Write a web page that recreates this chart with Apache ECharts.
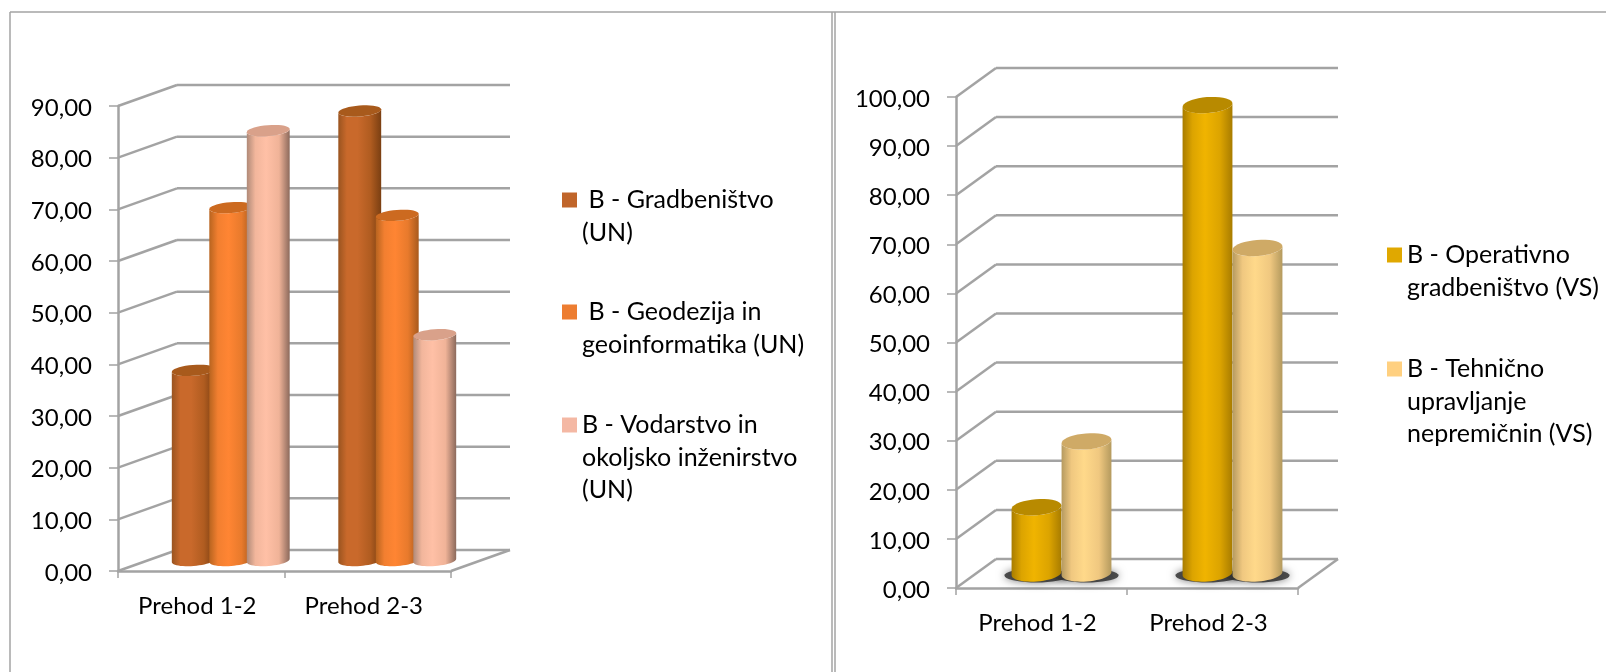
<!DOCTYPE html>
<html>
<head>
    <meta charset="utf-8"/>
    <title>Prehod</title>
    <style>
        html, body { margin: 0; padding: 0; background: #fff; }
        #main { width: 1606px; height: 672px; }
    </style>
    <script src="https://cdn.jsdelivr.net/npm/echarts@6/dist/echarts.min.js"></script>
</head>
<body>
<div id="main"></div>
<script type="text/javascript">
    // podatki
    var categories = ['Prehod 1-2', 'Prehod 2-3'];
    var leftTicks = [0, 10, 20, 30, 40, 50, 60, 70, 80, 90];
    var rightTicks = [0, 10, 20, 30, 40, 50, 60, 70, 80, 90, 100];

    var gradbenistvoUN = [36.8, 87.0];
    var geodezijaUN = [68.3, 66.8];
    var vodarstvoUN = [83.2, 43.7];
    var operativnoVS = [13.5, 95.4];
    var tehnicnoVS = [26.9, 66.3];

    var leftNames = ['B - Gradbeništvo (UN)', 'B - Geodezija in geoinformatika (UN)', 'B - Vodarstvo in okoljsko inženirstvo (UN)'];
    var rightNames = ['B - Operativno gradbeništvo (VS)', 'B - Tehnično upravljanje nepremičnin (VS)'];
    var legendLines = {
        'B - Gradbeništvo (UN)': [' B - Gradbeništvo', '(UN)'],
        'B - Geodezija in geoinformatika (UN)': [' B - Geodezija in', 'geoinformatika (UN)'],
        'B - Vodarstvo in okoljsko inženirstvo (UN)': ['B - Vodarstvo in', 'okoljsko inženirstvo', '(UN)'],
        'B - Operativno gradbeništvo (VS)': ['B - Operativno', 'gradbeništvo (VS)'],
        'B - Tehnično upravljanje nepremičnin (VS)': ['B - Tehnično', 'upravljanje', 'nepremičnin (VS)']
    };

    var FONT = 'Lato';
    var LEGEND_SIZE = 25;
    var AXIS_SIZE = 24;
    var LINE_H = 32.5;
    var GRID_COLOR = '#a3a3a3';

    var colors = {
        brown: { flat: '#c0652a', cap: '#a85a1c', ramp: ['#9a5420', '#c9692b', '#c9692b', '#b05c20', '#7a3f12'] },
        orange: { flat: '#ed7d31', cap: '#cc6a20', ramp: ['#b8641f', '#f27f30', '#ff8533', '#e87a2c', '#a85a1d'] },
        peach: { flat: '#f4b8a4', cap: '#d9a18a', ramp: ['#b08a78', '#f2b69c', '#ffc0a6', '#f0b398', '#8c6a5c'] },
        gold: { flat: '#e0a800', cap: '#b88a00', ramp: ['#a87c00', '#dca400', '#f0b400', '#dca400', '#a87c00'] },
        sand: { flat: '#ffd080', cap: '#cfaa66', ramp: ['#b59a60', '#f0c880', '#ffd98a', '#f0c880', '#b49a5e'] }
    };

    function ellipsePoints(cx, cy, a, b, tilt, from, to, steps) {
        var pts = [];
        for (var i = 0; i <= steps; i++) {
            var t = from + (to - from) * i / steps;
            var ex = a * Math.cos(t), ey = b * Math.sin(t);
            pts.push([cx + ex * Math.cos(tilt) - ey * Math.sin(tilt), cy + ex * Math.sin(tilt) + ey * Math.cos(tilt)]);
        }
        return pts;
    }

    function rampGradient(ramp) {
        return new echarts.graphic.LinearGradient(0, 0, 1, 0, [
            { offset: 0, color: ramp[0] },
            { offset: 0.2, color: ramp[1] },
            { offset: 0.45, color: ramp[2] },
            { offset: 0.75, color: ramp[3] },
            { offset: 1, color: ramp[4] }
        ]);
    }

    // valj kot custom serija, polozaj vedno iz api.coord
    function cylinderRender(slot, count, geo, color) {
        return function (params, api) {
            var top = api.coord([api.value(0), api.value(1)]);
            var base = api.coord([api.value(0), 0]);
            var cx = top[0] + geo.dx / 2 + (slot - (count - 1) / 2) * geo.step;
            var topY = top[1] + geo.dy / 2;
            var baseY = base[1] + geo.dy / 2;
            var a = geo.barW / 2;
            var tilt = -4.5 * Math.PI / 180;

            var bottom = ellipsePoints(cx, baseY, a, geo.capB, tilt, Math.PI, 0, 24);
            var upper = ellipsePoints(cx, topY, a, geo.capB, tilt, 0, Math.PI, 24);
            var children = [];
            if (geo.shadow) {
                children.push({
                    type: 'polygon',
                    z2: -1,
                    shape: { points: ellipsePoints(cx, baseY + 2, a + 7, geo.capB - 1, 0, 0, Math.PI * 2, 36) },
                    style: { fill: 'rgba(50,50,50,0.85)', shadowBlur: 8, shadowColor: 'rgba(0,0,0,0.6)' }
                });
            }
            children.push({
                type: 'polygon',
                shape: { points: bottom.concat(upper) },
                style: { fill: rampGradient(color.ramp) }
            });
            children.push({
                type: 'polygon',
                shape: { points: ellipsePoints(cx, topY, a, geo.capB, tilt, 0, Math.PI * 2, 36) },
                style: { fill: color.cap }
            });
            return { type: 'group', children: children };
        };
    }

    // zadnja stena in stranske crte
    function frameRender(geo) {
        return function (params, api) {
            var y = api.coord([0, api.value(1)])[1];
            var box = params.coordSys;
            var lineStyle = { stroke: GRID_COLOR, lineWidth: 2.5 };
            var children = [
                { type: 'line', shape: { x1: box.x, y1: y, x2: box.x + geo.dx, y2: y + geo.dy }, style: lineStyle },
                { type: 'line', shape: { x1: box.x + geo.dx, y1: y + geo.dy, x2: box.x + box.width + geo.dx, y2: y + geo.dy }, style: lineStyle }
            ];
            if (api.value(1) === 0) {
                children.push({ type: 'line', shape: { x1: box.x + box.width, y1: y, x2: box.x + box.width + geo.dx, y2: y + geo.dy }, style: lineStyle });
            }
            return { type: 'group', children: children };
        };
    }

    function pairs(values) {
        return values.map(function (v, i) { return [i, v]; });
    }

    function legendItem(name, color, left, firstLineY) {
        var n = legendLines[name].length;
        return {
            data: [name],
            left: left,
            top: firstLineY - (2 * n - 1) * LINE_H / 2,
            padding: 0,
            itemWidth: 15,
            itemHeight: 15,
            selectedMode: false,
            icon: 'rect',
            itemStyle: { color: color.flat, borderWidth: 0 },
            formatter: function (nm) {
                var blanks = [];
                for (var i = 0; i < n - 1; i++) blanks.push(' ');
                return blanks.concat(legendLines[nm]).join('\n');
            },
            textStyle: { fontFamily: FONT, fontSize: LEGEND_SIZE, color: '#000', lineHeight: LINE_H }
        };
    }

    var leftGeo = { dx: 59, dy: -21, step: 37.5, barW: 43, capB: 5.5, shadow: false };
    var rightGeo = { dx: 40, dy: -29, step: 50, barW: 50, capB: 8, shadow: true };

    var axisLine = { show: true, lineStyle: { color: GRID_COLOR, width: 2.5 } };
    var labelStyle = { fontFamily: FONT, fontSize: AXIS_SIZE, color: '#000' };

    function tickLabel(v) {
        return v.toFixed(2).replace('.', ',');
    }

    function xAxis(gridIndex) {
        return {
            type: 'category', gridIndex: gridIndex, data: categories, boundaryGap: true,
            axisLine: axisLine, axisTick: { show: true, length: 7, lineStyle: { color: GRID_COLOR, width: 1.5 } },
            axisLabel: Object.assign({ margin: 23, padding: [0, 8, 0, 0] }, labelStyle), splitLine: { show: false }
        };
    }

    function yAxis(gridIndex, ticks) {
        return {
            type: 'value', gridIndex: gridIndex, min: 0, max: ticks[ticks.length - 1], interval: 10,
            axisLine: axisLine, axisTick: { show: true, length: 9, lineStyle: { color: GRID_COLOR, width: 1.5 } },
            // napis je malo nizje od oznake
            axisLabel: Object.assign({ margin: 26, verticalAlign: 'top', lineHeight: 4, formatter: tickLabel }, labelStyle),
            splitLine: { show: false }
        };
    }

    function frameSeries(axisIndex, ticks, geo) {
        return {
            type: 'custom', xAxisIndex: axisIndex, yAxisIndex: axisIndex, z: 1, silent: true,
            data: ticks.map(function (t) { return [0, t]; }),
            encode: { x: 0, y: 1 }, renderItem: frameRender(geo)
        };
    }

    function cylinderSeries(axisIndex, name, values, slot, count, geo, color) {
        return {
            type: 'custom', name: name, xAxisIndex: axisIndex, yAxisIndex: axisIndex, z: 2, silent: true,
            data: pairs(values), encode: { x: 0, y: 1 },
            itemStyle: { color: color.flat },
            renderItem: cylinderRender(slot, count, geo, color)
        };
    }

    function panelLine(x1, y1, x2, y2) {
        return { type: 'line', silent: true, shape: { x1: x1, y1: y1, x2: x2, y2: y2 }, style: { stroke: GRID_COLOR, lineWidth: 1.5 } };
    }

    var myChart = echarts.init(document.getElementById('main'), null, { renderer: 'canvas' });
    myChart.setOption({
        animation: false,
        backgroundColor: '#fff',
        graphic: [
            panelLine(10, 12, 1606, 12),
            panelLine(10, 12, 10, 672),
            panelLine(832, 12, 832, 672),
            panelLine(835, 12, 835, 672)
        ],
        grid: [
            { left: 118, top: 106, width: 333, height: 465 },
            { left: 956, top: 97, width: 342, height: 491 }
        ],
        xAxis: [xAxis(0), xAxis(1)],
        yAxis: [yAxis(0, leftTicks), yAxis(1, rightTicks)],
        legend: [
            legendItem(leftNames[0], colors.brown, 562, 200),
            legendItem(leftNames[1], colors.orange, 562, 312),
            legendItem(leftNames[2], colors.peach, 562, 425),
            legendItem(rightNames[0], colors.gold, 1387, 255),
            legendItem(rightNames[1], colors.sand, 1387, 369)
        ],
        series: [
            frameSeries(0, leftTicks, leftGeo),
            frameSeries(1, rightTicks, rightGeo),
            cylinderSeries(0, leftNames[0], gradbenistvoUN, 0, 3, leftGeo, colors.brown),
            cylinderSeries(0, leftNames[1], geodezijaUN, 1, 3, leftGeo, colors.orange),
            cylinderSeries(0, leftNames[2], vodarstvoUN, 2, 3, leftGeo, colors.peach),
            cylinderSeries(1, rightNames[0], operativnoVS, 0, 2, rightGeo, colors.gold),
            cylinderSeries(1, rightNames[1], tehnicnoVS, 1, 2, rightGeo, colors.sand)
        ]
    });
</script>
</body>
</html>
